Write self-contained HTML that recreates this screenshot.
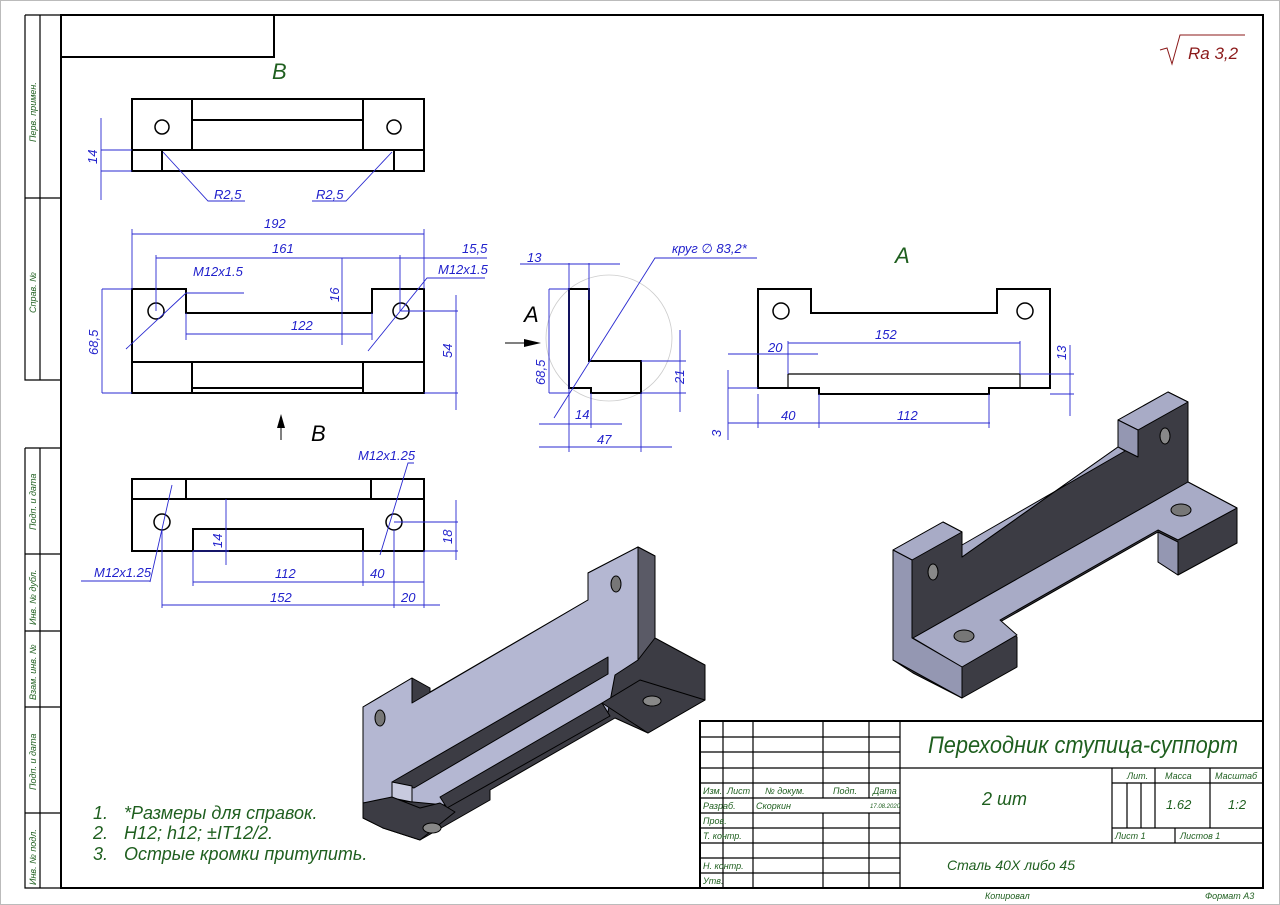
<!DOCTYPE html>
<html><head><meta charset="utf-8"><style>
html,body{margin:0;padding:0;background:#fff}
svg{display:block}
text{font-family:"Liberation Sans","DejaVu Sans",sans-serif;font-style:italic}
.d{fill:#2222cc;font-size:13px}
.g{fill:#1f5f1f}
.k{stroke:#000;stroke-width:2;fill:none}
.t{stroke:#000;stroke-width:1.2;fill:none}
.b{stroke:#2a2ad0;stroke-width:0.9;fill:none}
.h{stroke:#000;stroke-width:1.5;fill:#fff}
</style></head><body>
<svg width="1280" height="905" viewBox="0 0 1280 905" xmlns="http://www.w3.org/2000/svg">
<rect x="0.5" y="0.5" width="1279" height="904" fill="#fff" stroke="#bbb"/>
<rect x="61" y="15" width="1202" height="873" class="k"/>
<path d="M61 57H274V15" class="k"/>
<path d="M25 15H61M25 15V380H61M40 15V380M25 198H61M25 380H61" class="t"/>
<path d="M25 448H61M25 448V888H61M40 448V888M25 554H61M25 631H61M25 707H61M25 813H61" class="t"/>
<g class="g" font-size="9">
<text transform="translate(36,142) rotate(-90)">Перв. примен.</text>
<text transform="translate(36,313) rotate(-90)">Справ. №</text>
<text transform="translate(36,530) rotate(-90)">Подп. и дата</text>
<text transform="translate(36,625) rotate(-90)">Инв. № дубл.</text>
<text transform="translate(36,700) rotate(-90)">Взам. инв. №</text>
<text transform="translate(36,790) rotate(-90)">Подп. и дата</text>
<text transform="translate(36,885) rotate(-90)">Инв. № подл.</text>
</g>
<path d="M1160 50L1167 48L1172 64L1180 35H1245" stroke="#8b1a1a" fill="none" stroke-width="1"/>
<text x="1188" y="59" fill="#8b1a1a" font-size="17">Ra 3,2</text>

<text x="272" y="79" class="g" font-size="22">B</text>
<rect x="132" y="99" width="292" height="72" class="k"/>
<path d="M192 99V150M363 99V150M192 120H363M132 150H424M162 150V171M394 150V171" class="k"/>
<circle cx="162" cy="127" r="7" class="h"/><circle cx="394" cy="127" r="7" class="h"/>
<path d="M101 118V200M101 150H132M101 171H132M163 152L208 201H245M392 152L346 201H312" class="b"/>
<text x="214" y="199" class="d">R2,5</text><text x="316" y="199" class="d">R2,5</text>
<text transform="translate(97,164) rotate(-90)" class="d">14</text>

<path d="M132 289H186V313H372V289H424V393H132Z" class="k"/>
<path d="M132 362H424M192 362V393M363 362V393M192 388H363" class="k"/>
<circle cx="156" cy="311" r="8" class="h"/><circle cx="401" cy="311" r="8" class="h"/>
<path d="M132 234H424M132 229V289M424 229V289M156 258H487M156 255V311M400 255V311M342 258V345M186 334H372M186 313V340M372 313V340M102 289V393M102 289H132M102 393H132M456 295V410M401 311H458M424 393H458M126 349L186 293H244M368 351L427 278H485" class="b"/>
<text x="264" y="228" class="d">192</text><text x="272" y="253" class="d">161</text><text x="462" y="253" class="d">15,5</text>
<text x="291" y="330" class="d">122</text><text x="193" y="276" class="d">M12x1.5</text><text x="438" y="274" class="d">M12x1.5</text>
<text transform="translate(339,302) rotate(-90)" class="d">16</text>
<text transform="translate(98,355) rotate(-90)" class="d">68,5</text>
<text transform="translate(452,358) rotate(-90)" class="d">54</text>
<path d="M281 440V425" stroke="#000"/><path d="M277 428L281 414L285 428Z"/>
<text x="311" y="441" font-size="22" fill="#000">B</text>

<rect x="132" y="479" width="292" height="72" class="k"/>
<path d="M132 499H424M186 479V499M371 479V499M193 551V529H363V551" class="k"/>
<circle cx="162" cy="522" r="8" class="h"/><circle cx="394" cy="522" r="8" class="h"/>
<path d="M226 499V565M193 551H229M193 582H424M193 551V586M363 551V586M162 605H440M162 530V608M394 530V608M424 551V608M456 500V560M394 522H458M424 551H458M150 582L172 485M380 555L408 463H414M81 581H150" class="b"/>
<text x="275" y="578" class="d">112</text><text x="370" y="578" class="d">40</text><text x="270" y="602" class="d">152</text><text x="401" y="602" class="d">20</text>
<text x="94" y="577" class="d">M12x1.25</text><text x="358" y="460" class="d">M12x1.25</text>
<text transform="translate(222,548) rotate(-90)" class="d">14</text>
<text transform="translate(452,544) rotate(-90)" class="d">18</text>

<circle cx="609" cy="338" r="63" fill="none" stroke="#ccc" stroke-width="0.8"/>
<path d="M569 289H589V361H641V393H591V388H569Z" class="k"/>
<path d="M569 263V452M589 263V300M520 264H620M549 289V393M549 289H569M549 393H569M554 418L655 258H757M680 330V412M641 361H686M641 393H686M539 424H622M591 393V428M539 447H672M641 393V452" class="b"/>
<text x="527" y="262" class="d">13</text><text x="672" y="253" class="d">круг ∅ 83,2*</text>
<text x="575" y="419" class="d">14</text><text x="597" y="444" class="d">47</text>
<text transform="translate(545,385) rotate(-90)" class="d">68,5</text>
<text transform="translate(684,384) rotate(-90)" class="d">21</text>
<text x="524" y="322" font-size="22" fill="#000">A</text>
<path d="M505 343H528" stroke="#000"/><path d="M524 339L541 343L524 347Z"/>

<text x="895" y="263" class="g" font-size="22">A</text>
<path d="M758 289H811V313H997V289H1050V388H989V394H819V388H758Z" class="k"/>
<path d="M788 374H1020M788 374V388M1020 374V388" class="t"/>
<circle cx="781" cy="311" r="8" class="h"/><circle cx="1025" cy="311" r="8" class="h"/>
<path d="M788 341V374M1020 341V374M788 343H1020M728 354H818M728 370V440M728 388H758M728 423H990M758 394V428M819 394V428M989 394V428M1070 345V416M1020 374H1074M1050 394H1074" class="b"/>
<text x="875" y="339" class="d">152</text><text x="768" y="352" class="d">20</text><text x="781" y="420" class="d">40</text><text x="897" y="420" class="d">112</text>
<text transform="translate(721,437) rotate(-90)" class="d">3</text>
<text transform="translate(1066,360) rotate(-90)" class="d">13</text>

<!-- left 3D -->
<g stroke="#000" stroke-width="1" stroke-linejoin="round">
<path d="M363 707L412 678L430 688L430 692L588 600L588 573L638 547L655 556L655 638L705 665L705 700L648 733L615 718L490 790L490 800L420 840L383 828L363 818Z" fill="#3c3c44"/>
<path d="M363 707L412 678L412 703L588 600L588 573L638 547L638 660L615 675L608 712L445 805L392 800L363 803Z" fill="#b4b7d2"/>
<path d="M638 547L655 556L655 638L638 660Z" fill="#5a5a66"/>
<path d="M392 782L608 657L608 674L414 788Z" fill="#3c3c44"/>
<path d="M392 782L412 786L412 802L392 798Z" fill="#c8cade"/>
<path d="M440 797L602 703L610 716L447 808Z" fill="#3c3c44"/>
<path d="M602 703L640 680L705 700L648 733Z" fill="#3c3c44"/>
<path d="M363 803L392 797L420 808L440 803L455 812L420 840L383 828L363 818Z" fill="#3c3c44"/>
</g>
<ellipse cx="652" cy="701" rx="9" ry="5" fill="#888" stroke="#000"/>
<ellipse cx="432" cy="828" rx="9" ry="5" fill="#888" stroke="#000"/>
<ellipse cx="380" cy="718" rx="5" ry="8" fill="#777" stroke="#000"/>
<ellipse cx="616" cy="584" rx="5" ry="8" fill="#777" stroke="#000"/>

<!-- right 3D -->
<g stroke="#000" stroke-width="1" stroke-linejoin="round">
<path d="M893 550L943 522L962 532L962 557L1118 447L1118 420L1168 392L1188 402L1188 482L1237 508L1237 543L1178 575L1158 562L1158 532L1000 622L1017 637L1017 667L962 698L913 673L893 660Z" fill="#3c3c44"/>
<path d="M893 550L943 522L962 532L912 560Z" fill="#a8abc6"/>
<path d="M1118 420L1168 392L1188 402L1138 430Z" fill="#a8abc6"/>
<path d="M1118 420L1138 430L1138 457L1118 447Z" fill="#9497b2"/>
<path d="M962 557L1118 447L1125 451L962 545Z" fill="#a8abc6"/>
<path d="M913 638L1188 482L1237 508L1178 540L1158 530L1000 620L1017 635L962 667Z" fill="#a8abc6"/>
<path d="M893 550L912 560L912 638L962 667L962 698L893 660Z" fill="#9497b2"/>
<path d="M1158 532L1178 542L1178 575L1158 562Z" fill="#9497b2"/>
</g>
<ellipse cx="1181" cy="510" rx="10" ry="6" fill="#777" stroke="#000"/>
<ellipse cx="964" cy="636" rx="10" ry="6" fill="#777" stroke="#000"/>
<ellipse cx="933" cy="572" rx="5" ry="8" fill="#888" stroke="#000"/>
<ellipse cx="1165" cy="436" rx="5" ry="8" fill="#888" stroke="#000"/>

<g class="g" font-size="18">
<text x="93" y="819">1.</text><text x="124" y="819">*Размеры для справок.</text>
<text x="93" y="839">2.</text><text x="124" y="839">H12; h12; ±IT12/2.</text>
<text x="93" y="860">3.</text><text x="124" y="860">Острые кромки притупить.</text>
</g>

<rect x="700" y="721" width="563" height="167" fill="#fff" class="k"/>
<path d="M723 721V888M753 721V888M823 721V798M869 721V798M823 813V888M869 813V888M900 721V888" class="t"/>
<path d="M700 737H900M700 752H900M700 768H1263M700 783H900M700 798H900M700 813H900M700 828H900M700 843H1263M700 858H900M700 873H900M1112 768V843M1112 783H1263M1112 828H1263M1127 783V828M1141 783V828M1155 768V828M1210 768V828M1175 828V843" class="t"/>
<g class="g" font-size="9">
<text x="703" y="794">Изм.</text><text x="727" y="794">Лист</text><text x="765" y="794">№ докум.</text><text x="833" y="794">Подп.</text><text x="873" y="794">Дата</text>
<text x="703" y="809">Разраб.</text><text x="756" y="809">Скоркин</text><text x="870" y="808" font-size="6">17.08.2020</text>
<text x="703" y="824">Пров.</text><text x="703" y="839">Т. контр.</text><text x="703" y="869">Н. контр.</text><text x="703" y="884">Утв.</text>
<text x="1127" y="779">Лит.</text><text x="1165" y="779">Масса</text><text x="1215" y="779">Масштаб</text>
<text x="1115" y="839">Лист 1</text><text x="1180" y="839">Листов 1</text>
<text x="985" y="899">Копировал</text><text x="1205" y="899">Формат А3</text>
</g>
<text x="928" y="753" class="g" font-size="24" textLength="310" lengthAdjust="spacingAndGlyphs">Переходник ступица-суппорт</text>
<text x="982" y="805" class="g" font-size="18">2 шт</text>
<text x="1166" y="809" class="g" font-size="13">1.62</text><text x="1228" y="809" class="g" font-size="13">1:2</text>
<text x="947" y="870" class="g" font-size="14">Сталь 40Х либо 45</text>
</svg>
</body></html>
